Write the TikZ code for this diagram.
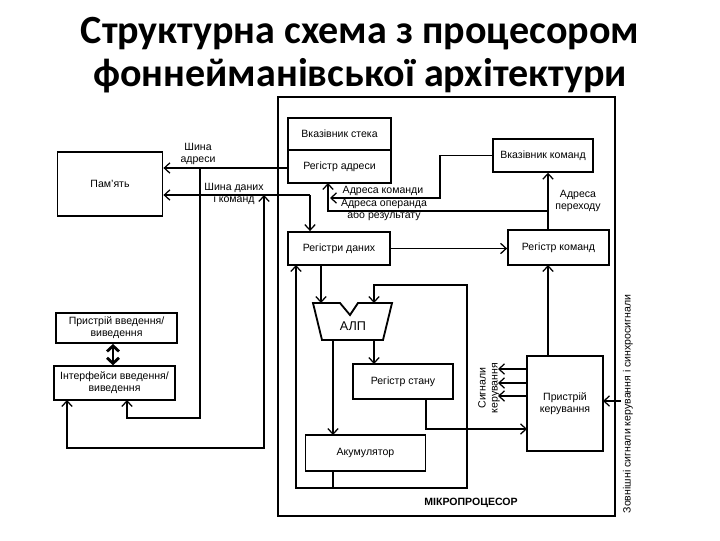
\documentclass[tikz,border=0pt]{standalone}
\usepackage{fontspec}
\setmainfont{Liberation Sans}
\newfontfamily\titlefont{Carlito}
\usetikzlibrary{arrows.meta,positioning,calc}
\tikzset{
    blk/.style 2 args={
        rectangle,
        draw,
        line width=1.3pt,
        minimum width=#1*0.025cm,
        minimum height=#2*0.025cm,
        inner sep=1pt,
        align=center,
        font=\fontsize{7.5}{8.5}\selectfont
    },
    conn/.style={line width=0.9pt},
    arr/.style={conn, -{Straight Barb[length=1.4mm, width=2.6mm]}},
    lbl/.style={font=\fontsize{7.5}{8.5}\selectfont, align=center, inner sep=0pt}
}
\begin{document}
\begin{tikzpicture}[x=0.025cm, y=-0.025cm]
\useasboundingbox (0,0) rectangle (720,540);

% Title
\node[font=\titlefont\bfseries\fontsize{28.5}{30.5}\selectfont, align=center] (title) at (360,55)
    {Структурна схема з процесором\\фоннейманівської архітектури};

% Microprocessor frame
\draw[line width=1.3pt] (278,97) rectangle (615,516);
\node[font=\fontsize{7.5}{8.5}\selectfont\bfseries] (mp) at (471,503) {МІКРОПРОЦЕСОР};

% Memory and I/O
\node[blk={105}{64}] (mem) at (110,184) {Пам’ять};
\node[blk={121}{30}] (io) at (116.5,328) {Пристрій введення/\\виведення};
\node[blk={121}{34}, line width=1pt] (ioi) at (114.5,383) {Інтерфейси введення/\\виведення};
\draw[line width=2pt, {Straight Barb[length=1.4mm, width=3mm]}-{Straight Barb[length=1.4mm, width=3mm]}] (io.south -| 113,0) -- (ioi.north -| 113,0);

% Registers
\node[blk={103}{32}] (sp) at (339.5,134) {Вказівник стека};
\node[blk={103}{33}] (ar) at (339.5,166.5) {Регістр адреси};
\node[blk={100}{33}, line width=1pt] (pc) at (543,155.5) {Вказівник команд};
\node[blk={102}{33}] (dr) at (339,248.5) {Регістри даних};
\node[blk={101}{35}] (ir) at (558.5,247.5) {Регістр команд};
\node[blk={100}{35}] (sr) at (403,381.5) {Регістр стану};
\node[blk={76}{95}] (cu) at (565,403.5) {Пристрій\\керування};
\node[blk={120}{36}] (acc) at (365.5,453) {Акумулятор};

% ALU
\draw[line width=1.3pt] (313,303) -- (340,303) -- (350,315) -- (358,303) -- (392,303)
    -- (383,340) -- (322,340) -- cycle;
\node[font=\fontsize{9}{10}\selectfont] (alu) at (353,326) {АЛП};

% Buses to memory
\coordinate (ab) at (200,168);
\coordinate (db) at (310,195);
\coordinate (db2) at (264,195);
\draw[arr] (ar.west |- ab) -- (ab -| mem.east);
\draw[arr] (db) -- (db -| mem.east);
\draw[arr] (db) -- (db |- dr.north);
\node[lbl] (abl) at (198,154) {Шина\\адреси};
\node[lbl] (dbl) at (234,194) {Шина даних\\і команд};

% Buses to I/O interface
\draw[arr] (ab) -- (200,418) -| (127,400);
\draw[conn, {Straight Barb[length=1.4mm, width=2.6mm]}-{Straight Barb[length=1.4mm, width=2.6mm]}]
    (db2) -- (264,448) -| (67,400);

% Addresses
\coordinate (jmp) at (548,211);
\draw[arr] (jmp |- ir.north) -- (jmp |- pc.south);
\draw[arr] (jmp) -| (328,183);
\draw[arr] (pc.west) -| (440,198) -- (330,198);
\node[lbl] (acl) at (383,191) {Адреса команди};
\node[lbl] (aol) at (384,210) {Адреса операнда\\або результату};
\node[lbl] (jl) at (578,201) {Адреса\\переходу};

% Data paths
\draw[arr] (dr.east) -- (dr.east -| ir.west);
\draw[arr] (321,265) -- (321,303);
\draw[arr] (333,340) -- (333,435);
\draw[arr] (374,340) -- (374,364);
\coordinate (accb) at (333,488);
\draw[conn] (333,471) -- (accb);
\draw[arr] (accb) -- (296,488) -- (296,265);
\draw[arr] (accb) -- (467,488) -- (467,285) -- (374,285) -- (374,303);

% Control
\draw[arr] (426,399) -- (426,429) -- (527,429);
\draw[arr] (548,356) -- (548,265);
\foreach \y in {369,383,396} {
    \draw[arr] (527,\y) -- (498,\y);
}
\node[lbl, rotate=90] (sigl) at (489,388) {Сигнали\\керування};
\draw[arr] (621,401) -- (603,401);
\node[lbl, rotate=90] (extl) at (628,404) {Зовнішні сигнали керування і синхросигнали};
\end{tikzpicture}
\end{document}
